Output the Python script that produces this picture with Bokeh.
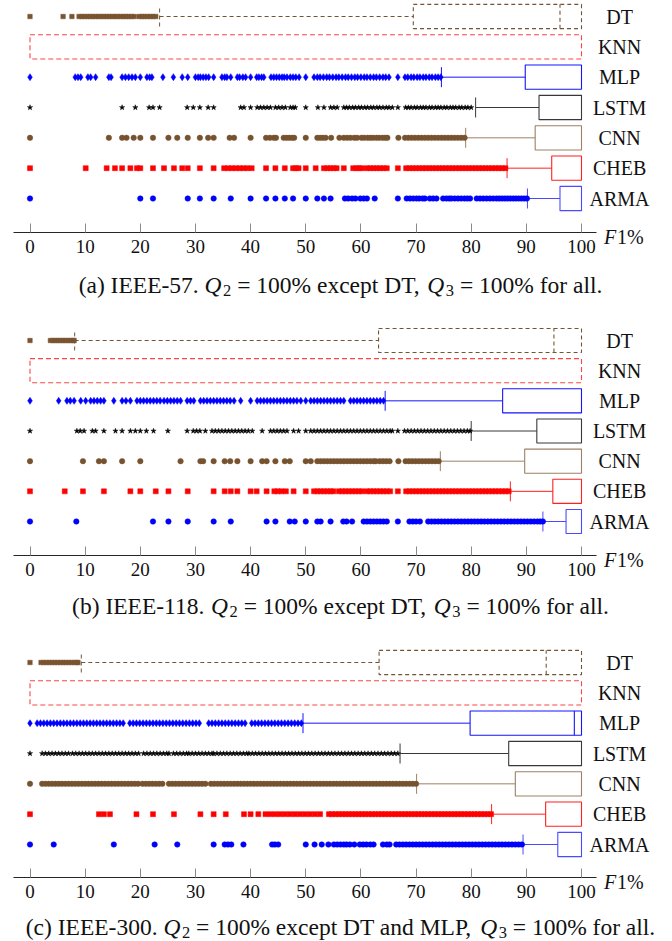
from bokeh.plotting import figure
from bokeh.models import Range1d, FixedTicker, Label, ColumnDataSource
from bokeh.layouts import column
from bokeh.core.properties import value
from bokeh.embed import file_html
from bokeh.resources import INLINE

# ---------------- data ----------------
methods = ["DT", "KNN", "MLP", "LSTM", "CNN", "CHEB", "ARMA"]
row_pos = [6, 5, 4, 3, 2, 1, 0]
x_ticks = [0, 10, 20, 30, 40, 50, 60, 70, 80, 90, 100]

# (a) IEEE-57
q1_a = [69.5, 0, 89.8, 92.3, 91.6, 94.6, 96.1]
med_a = [96.1, 100, 100, 100, 100, 100, 100]
q3_a = [100, 100, 100, 100, 100, 100, 100]
lw_a = [23.5, 0, 74.6, 80.8, 79.0, 86.5, 90.2]
out_dt_a = [0, 6.0, 7.6, 8.9, 9.4, 9.9, 10.4, 10.9, 11.4, 11.9, 12.4, 12.9, 13.4, 13.9, 14.4, 14.9, 15.4,
            15.9, 16.4, 16.9, 17.4, 17.9, 18.4, 18.9, 19.8, 20.3, 20.8, 21.3, 21.8, 22.3, 22.8]
out_mlp_a = [0, 8.2, 8.7, 9.2, 10.5, 11.0, 11.9, 14.3, 14.7, 16.7, 17.3, 17.9, 18.5, 19.1, 20.0, 21.2, 21.7,
             22.1, 24.1, 26.0, 27.6, 28.6, 30.0, 30.5, 30.9, 31.4, 31.9, 32.4, 33.3, 34.8, 35.3, 35.7, 36.4,
             37.6, 38.0, 38.6, 39.1, 40.0, 41.1, 41.5, 42.0, 42.4, 43.7, 44.2, 44.7, 45.2, 45.7, 46.1, 46.6,
             47.2, 47.7, 48.2, 48.8, 50.0, 51.5, 52.1, 52.6, 53.2, 53.8, 54.3, 54.9, 55.5, 56.0, 56.6, 57.2,
             57.7, 58.3, 58.9, 59.4, 60.0, 60.6, 61.1, 61.7, 62.3, 62.8, 63.4, 64.0, 64.5, 65.1, 66.7, 68.0,
             68.5, 69.1, 69.6, 70.2, 70.7, 71.3, 71.8, 72.4, 72.9, 73.5, 74.0, 74.5]
out_lstm_a = [0, 16.7, 19.1, 21.6, 22.3, 23.5, 28.5, 29.6, 30.8, 32.3, 33.3, 38.2, 38.8, 40.0, 41.2, 41.8,
              42.4, 43.0, 43.6, 44.5, 45.1, 45.7, 46.3, 47.2, 47.7, 48.1, 50.0, 52.2, 53.3, 54.5, 55.1, 55.7,
              56.9, 57.4, 57.9, 58.5, 59.0, 59.6, 60.1, 60.7, 61.2, 61.8, 62.3, 62.9, 63.4, 64.0, 64.6, 65.1,
              65.7, 66.7, 68.1, 68.6, 69.1, 69.7, 70.2, 70.8, 71.3, 71.8, 72.4, 72.9, 73.5, 74.0, 74.5, 75.1,
              75.6, 76.2, 76.7, 77.2, 77.8, 78.3, 78.9, 79.4, 80.0]
out_cnn_a = [0, 14.3, 16.7, 17.5, 18.8, 20.0, 22.3, 25.1, 26.7, 28.6, 30.8, 32.3, 33.3, 36.2, 37.0, 40.0,
             42.8, 43.5, 44.2, 44.6, 46.0, 46.5, 47.0, 47.5, 47.9, 50.0, 52.1, 52.6, 53.1, 53.6, 54.6, 56.1,
             56.9, 57.5, 58.1, 58.8, 59.3, 60.1, 60.6, 61.2, 61.7, 62.2, 62.8, 63.3, 63.9, 64.4, 64.8, 66.8,
             68.0, 68.6, 69.2, 69.8, 70.4, 71.0, 71.6, 72.2, 72.8, 73.4, 74.0, 74.6, 75.2, 75.8, 76.4, 77.0,
             77.6, 78.2, 78.8]
out_cheb_a = [0, 10.1, 13.9, 15.4, 16.7, 18.2, 19.4, 20.0, 22.3, 24.3, 26.1, 27.6, 28.6, 30.8, 33.3, 35.2,
              35.9, 36.6, 37.3, 38.0, 38.7, 39.4, 40.2, 42.8, 44.5, 46.2, 47.7, 48.2, 48.7, 50.0, 51.8, 53.3,
              53.9, 54.5, 55.1, 55.6, 56.9, 58.6, 59.2, 59.7, 60.2, 61.1, 61.7, 62.3, 62.9, 63.5, 64.1, 64.7,
              66.7, 68.2, 68.8, 69.4, 70.0, 70.6, 71.2, 71.8, 72.4, 73.0, 73.6, 74.2, 74.8, 75.4, 76.0, 76.6,
              77.2, 77.8, 78.4, 79.0, 79.6, 80.2, 80.8, 81.4, 82.0, 82.6, 83.2, 83.8, 84.4, 85.0, 85.6, 86.2]
out_arma_a = [0, 20.0, 22.3, 28.6, 30.8, 33.3, 36.4, 40.0, 42.8, 44.5, 46.2, 47.7, 50.0, 52.1, 53.3, 54.5,
              57.1, 57.7, 58.4, 59.0, 59.9, 60.5, 61.1, 62.5, 66.7, 68.3, 68.9, 69.5, 70.1, 70.6, 71.2, 71.6,
              72.5, 73.1, 73.7, 74.9, 75.5, 76.0, 76.4, 77.0, 77.6, 78.2, 78.8, 79.3, 79.8, 81.0, 81.6, 82.2,
              82.8, 83.4, 84.0, 84.6, 85.1, 85.6, 86.1, 86.6, 87.1, 87.6, 88.1, 88.6, 89.1, 89.6, 90.1]

# (b) IEEE-118
q1_b = [63.2, 0, 85.7, 91.9, 89.7, 94.8, 97.2]
med_b = [95.0, 100, 100, 100, 100, 100, 100]
q3_b = [100, 100, 100, 100, 100, 100, 100]
lw_b = [8.1, 0, 64.4, 80.0, 74.4, 87.1, 93.0]
out_dt_b = [0, 3.7, 4.2, 4.6, 5.1, 5.5, 6.0, 6.4, 6.9, 7.3, 7.8, 8.0]
out_mlp_b = [0, 5.2, 6.7, 7.3, 8.0, 9.2, 10.1, 11.0, 11.6, 12.2, 12.8, 13.4, 15.2, 16.7, 17.4, 18.2, 19.4,
             20.0, 20.6, 21.2, 21.8, 22.4, 23.0, 23.6, 24.3, 24.9, 25.5, 26.1, 26.7, 27.3, 28.5, 29.1, 29.7,
             30.9, 31.5, 32.1, 32.7, 33.3, 33.9, 34.5, 35.1, 35.7, 36.3, 37.0, 38.2, 40.0, 41.2, 41.8, 42.4,
             43.0, 43.6, 44.2, 44.8, 45.4, 46.0, 46.6, 47.2, 47.8, 48.4, 49.1, 50.0, 50.9, 51.5, 52.1, 52.7,
             53.3, 53.9, 54.5, 55.1, 55.7, 56.3, 56.9, 58.1, 58.7, 59.3, 59.9, 60.5, 61.1, 61.7, 62.3, 62.9,
             63.5, 64.1]
out_lstm_b = [0, 8.5, 9.1, 9.8, 11.3, 11.9, 13.4, 15.5, 16.7, 18.2, 19.1, 20.0, 21.1, 22.4, 25.0, 28.5, 29.6,
              30.2, 30.8, 31.8, 33.0, 33.6, 34.2, 34.8, 35.4, 36.0, 36.6, 37.2, 37.8, 38.4, 39.0, 39.6, 40.3,
              42.1, 43.6, 44.2, 44.8, 45.4, 46.0, 46.6, 47.8, 48.7, 50.0, 50.9, 51.5, 52.1, 52.7, 53.3, 53.9,
              54.5, 55.1, 55.7, 56.3, 56.9, 57.5, 58.1, 58.7, 59.3, 59.9, 60.5, 61.1, 61.7, 62.3, 62.9, 63.5,
              64.1, 64.7, 65.3, 65.7, 66.7, 67.9, 68.5, 69.1, 69.7, 70.3, 70.9, 71.5, 72.1, 72.7, 73.3, 73.9,
              74.5, 75.1, 75.7, 76.3, 76.9, 77.5, 78.1, 78.7, 79.3, 79.8]
out_cnn_b = [0, 9.6, 12.5, 13.4, 16.7, 20.0, 27.3, 30.9, 31.4, 33.3, 35.3, 36.3, 37.6, 40.0, 42.1, 42.9,
             44.5, 46.2, 47.1, 50.0, 50.9, 52.1, 52.7, 53.3, 53.9, 54.5, 55.1, 55.7, 56.3, 56.9, 57.5, 58.1,
             58.7, 59.3, 59.9, 60.5, 61.1, 61.7, 62.3, 62.7, 63.4, 64.0, 64.6, 65.2, 66.8, 68.1, 68.7, 69.3,
             69.9, 70.5, 71.1, 71.7, 72.3, 72.9, 73.5, 74.1]
out_cheb_b = [0, 6.3, 9.6, 13.4, 18.2, 20.0, 22.8, 25.1, 28.6, 33.3, 35.3, 36.4, 37.6, 40.0, 41.1, 42.9,
              44.3, 44.9, 45.6, 46.4, 47.8, 50.0, 51.5, 52.1, 52.7, 53.3, 53.9, 54.5, 55.0, 56.0, 56.6, 57.2,
              57.8, 58.4, 59.0, 59.6, 60.2, 61.1, 61.7, 62.3, 62.9, 63.5, 64.1, 64.7, 65.3, 66.7, 68.2, 68.8,
              69.4, 70.0, 70.6, 71.2, 71.8, 72.4, 73.0, 73.6, 74.2, 74.8, 75.4, 76.0, 76.6, 77.2, 77.8, 78.4,
              79.0, 79.6, 80.2, 80.8, 81.4, 82.0, 82.6, 83.2, 83.8, 84.4, 85.0, 85.6, 86.2, 86.8]
out_arma_b = [0, 8.4, 22.3, 25.1, 28.6, 33.3, 36.4, 42.9, 44.5, 47.1, 48.0, 50.0, 52.1, 52.7, 54.5, 56.8,
              57.4, 58.4, 60.5, 61.1, 61.7, 62.3, 62.9, 63.5, 64.1, 64.7, 66.7, 68.8, 69.4, 70.0, 70.7, 72.2,
              72.8, 73.4, 74.0, 74.6, 75.2, 75.8, 76.4, 77.0, 77.6, 78.2, 78.8, 79.4, 80.0, 80.6, 81.2, 81.8,
              82.4, 83.0, 83.6, 84.2, 84.8, 85.4, 86.0, 86.6, 87.2, 87.8, 88.4, 89.0, 89.6, 90.2, 90.8, 91.4,
              92.0, 92.5, 93.0]

# (c) IEEE-300
q1_c = [63.3, 0, 79.8, 86.8, 88.0, 93.5, 95.7]
med_c = [93.6, 100, 98.7, 100, 100, 100, 100]
q3_c = [100, 100, 100, 100, 100, 100, 100]
lw_c = [9.3, 0, 49.5, 67.1, 70.1, 83.7, 89.4]
out_dt_c = [0, 2.0, 2.5, 3.0, 3.5, 4.0, 4.5, 5.0, 5.5, 6.0, 6.5, 7.0, 7.5, 8.0, 8.5, 8.7]
out_mlp_c = [0, 1.3, 1.9, 2.5, 3.1, 3.7, 4.3, 4.9, 5.5, 6.1, 6.7, 7.3, 7.9, 8.5, 9.1, 9.7, 10.3, 10.9, 11.5,
             12.1, 12.7, 13.3, 13.9, 14.5, 15.1, 15.7, 16.3, 16.9, 18.1, 18.7, 19.3, 19.9, 20.5, 21.1, 21.7,
             22.3, 22.9, 23.5, 24.1, 24.7, 25.3, 25.9, 26.5, 27.1, 27.7, 28.3, 28.9, 29.5, 30.1, 30.7, 32.4,
             33.0, 33.6, 34.2, 34.8, 35.4, 36.0, 36.6, 37.2, 37.8, 38.4, 39.0, 40.2, 40.8, 41.4, 42.0, 42.6,
             43.2, 43.8, 44.4, 45.0, 45.6, 46.2, 46.8, 47.4, 48.0, 48.6, 49.2]
out_lstm_c = [0, 2.2, 2.8, 3.4, 4.0, 4.6, 5.2, 5.8, 6.4, 7.0, 7.7, 8.3, 8.9, 9.5, 10.1, 10.7, 11.3, 11.9,
              12.5, 13.1, 13.7, 14.3, 14.9, 15.5, 16.1, 16.7, 17.3, 17.9, 18.5, 19.1, 19.7, 20.6, 21.2, 21.8,
              22.4, 23.0, 23.6, 24.2, 24.8, 25.2, 26.0, 26.6, 27.2, 27.8, 28.4, 28.8, 29.4, 30.0, 30.6, 31.2,
              31.8, 32.4, 33.0, 33.3, 33.9, 34.5, 35.1, 35.7, 36.3, 36.9, 37.5, 38.1, 38.7, 39.3, 39.7, 40.3,
              40.9, 41.5, 42.1, 42.7, 43.3, 43.9, 44.5, 45.1, 45.7, 46.3, 46.9, 47.5, 48.1, 48.7, 49.3, 49.9,
              50.5, 51.1, 51.7, 52.3, 52.9, 53.5, 54.1, 54.7, 55.3, 55.9, 56.5, 57.1, 57.7, 58.3, 58.9, 59.5,
              60.1, 60.7, 61.3, 61.9, 62.5, 63.1, 63.7, 64.3, 64.9, 65.5, 66.1, 66.7]
out_cnn_c = [0, 2.2, 2.8, 3.4, 4.0, 4.6, 5.2, 5.8, 6.4, 7.0, 7.6, 8.2, 8.8, 9.4, 10.0, 10.6, 11.2, 11.8, 12.4,
             13.0, 13.6, 14.2, 14.8, 15.4, 16.0, 16.6, 17.2, 17.8, 18.4, 19.0, 19.6, 20.4, 21.0, 21.6, 22.2,
             22.8, 23.4, 24.0, 25.2, 25.8, 26.4, 27.0, 27.6, 28.2, 28.8, 29.4, 30.0, 30.6, 31.2, 31.8, 32.8,
             33.4, 34.0, 34.6, 35.2, 35.8, 36.4, 37.0, 37.6, 38.2, 38.8, 39.4, 40.0, 40.6, 41.2, 41.8, 42.4,
             43.0, 43.6, 44.2, 44.8, 45.4, 46.0, 46.6, 47.2, 47.8, 48.4, 49.0, 49.6, 50.2, 50.8, 51.4, 52.0,
             52.6, 53.2, 53.8, 54.4, 55.0, 55.6, 56.2, 56.8, 57.4, 58.0, 58.6, 59.2, 59.8, 60.4, 61.0, 61.6,
             62.2, 62.8, 63.4, 64.0, 64.6, 65.2, 65.8, 66.4, 67.0, 67.6, 68.2, 68.8, 69.4, 70.0]
out_cheb_c = [0, 12.5, 13.4, 14.5, 19.3, 22.3, 26.1, 30.9, 33.3, 35.5, 38.8, 40.0, 41.4, 42.7, 43.6, 44.5,
              45.4, 46.3, 47.2, 48.1, 49.0, 49.9, 50.8, 51.7, 52.6, 54.2, 54.8, 55.4, 56.0, 56.6, 57.2, 57.8,
              58.4, 59.0, 59.6, 60.2, 60.8, 61.4, 62.0, 62.6, 63.2, 63.8, 64.4, 65.0, 65.6, 66.2, 66.8, 67.4,
              68.0, 68.6, 69.2, 69.8, 70.4, 71.0, 71.6, 72.2, 72.8, 73.4, 74.0, 74.6, 75.2, 75.8, 76.4, 77.0,
              77.6, 78.2, 78.8, 79.4, 80.0, 80.6, 81.2, 81.8, 82.4, 83.0, 83.6]
out_arma_c = [0, 4.3, 15.2, 22.6, 26.7, 33.3, 35.3, 35.9, 36.5, 38.7, 43.9, 44.4, 45.0, 50.0, 51.6, 52.9,
              54.1, 55.1, 55.7, 56.3, 56.9, 57.4, 58.0, 58.8, 59.8, 60.4, 61.0, 61.7, 62.3, 64.0, 64.7, 65.2,
              66.4, 67.0, 67.6, 68.2, 68.8, 69.4, 70.0, 70.6, 71.2, 71.8, 72.4, 73.0, 73.6, 74.2, 74.8, 75.4,
              76.0, 76.6, 77.2, 77.8, 78.4, 79.0, 79.6, 80.2, 80.8, 81.4, 82.0, 82.6, 83.2, 83.8, 84.4, 85.0,
              85.6, 86.2, 86.8, 87.4, 88.0, 88.6, 89.2]

captions = [
    [("(a) IEEE-57. ", "n"), ("Q", "i"), ("2", "s"), (" = 100% except DT, ", "n"), ("Q", "i"), ("3", "s"),
     (" = 100% for all.", "n")],
    [("(b) IEEE-118. ", "n"), ("Q", "i"), ("2", "s"), (" = 100% except DT, ", "n"), ("Q", "i"), ("3", "s"),
     (" = 100% for all.", "n")],
    [("(c) IEEE-300. ", "n"), ("Q", "i"), ("2", "s"), (" = 100% except DT and MLP, ", "n"), ("Q", "i"),
     ("3", "s"), (" = 100% for all.", "n")],
]

# ---------------- styling ----------------
FONT = "Liberation Serif"
STY = {
    "DT":   dict(mc="#7A5431", lc="#735536", marker="square", size=4.5, dash="4 3"),
    "KNN":  dict(mc="#FF0000", lc="#FF4545", marker=None, size=0, dash="5 3"),
    "MLP":  dict(mc="#0000FF", lc="#1414FF", marker="diamond", size=7, dash="solid"),
    "LSTM": dict(mc="#000000", lc="#383838", marker="star", size=5.5, dash="solid"),
    "CNN":  dict(mc="#76522E", lc="#9C8064", marker="circle", size=5.5, dash="solid"),
    "CHEB": dict(mc="#FF0000", lc="#FF2020", marker="square", size=5, dash="solid"),
    "ARMA": dict(mc="#0000FF", lc="#4A4AFF", marker="circle", size=5.5, dash="solid"),
}

EM = {" ": .25, "(": .333, ")": .333, ".": .25, ",": .25, "-": .333, "=": .564, "%": .833,
      "a": .444, "c": .444, "d": .5, "e": .444, "f": .333, "l": .278, "n": .5, "o": .5, "p": .5,
      "r": .333, "t": .278, "x": .5, "b": .5,
      "A": .722, "B": .667, "C": .667, "D": .722, "E": .611, "I": .333, "L": .611, "M": .889,
      "P": .556, "T": .611, "Q": .722, "F": .611}

W = 672
X0_PX = 29.5      # where 0 sits
PX_PER = 5.515    # pixels per percent


def text_w(s, size):
    return sum(EM.get(ch, .5) for ch in s) * size


def make_panel(H, dt_px, arma_px, axis_px, cap_px, q1, med, q3, lw, outs, cap):
    s = (arma_px - dt_px) / 6.0

    def yv(py):
        return 6 - (py - dt_px) / s

    p = figure(width=W, height=H, output_backend="svg", toolbar_location=None,
               x_range=Range1d(-X0_PX / PX_PER, (W - X0_PX) / PX_PER),
               y_range=Range1d(yv(H), yv(0)),
               y_axis_location=None, min_border=0, min_border_left=0, min_border_right=0,
               min_border_top=0, min_border_bottom=0)
    p.grid.visible = False
    p.outline_line_color = None
    p.background_fill_color = "white"
    p.border_fill_color = "white"

    ax = p.xaxis[0]
    ax.fixed_location = yv(axis_px)
    ax.ticker = FixedTicker(ticks=x_ticks, minor_ticks=[])
    ax.bounds = (-3, 102.7)
    ax.axis_line_color = "#262626"
    ax.axis_line_width = 1
    ax.major_tick_in = 9
    ax.major_tick_out = 0
    ax.major_tick_line_color = "#8a8a8a"
    ax.minor_tick_line_color = None
    ax.major_label_text_font = FONT
    ax.major_label_text_font_size = "19px"
    ax.major_label_text_color = "#111111"
    ax.major_label_standoff = 7

    hb, hc = 0.4, 0.33
    for i, m in enumerate(methods):
        st = STY[m]
        y = row_pos[i]
        if lw[i] < q1[i]:
            p.segment(x0=[lw[i]], y0=[y], x1=[q1[i]], y1=[y], line_color=st["lc"], line_width=1,
                      line_dash=st["dash"])
            p.segment(x0=[lw[i]], y0=[y - hc], x1=[lw[i]], y1=[y + hc], line_color=st["lc"],
                      line_width=1, line_dash=st["dash"])
        p.quad(left=[q1[i]], right=[q3[i]], bottom=[y - hb], top=[y + hb], fill_color=None,
               line_color=st["lc"], line_width=1.1, line_dash=st["dash"])
        if med[i] < q3[i]:
            p.segment(x0=[med[i]], y0=[y - hb], x1=[med[i]], y1=[y + hb], line_color=st["lc"],
                      line_width=1.1, line_dash=st["dash"])
        if st["marker"] and outs[m]:
            src = ColumnDataSource(dict(x=outs[m], y=[y] * len(outs[m])))
            p.scatter("x", "y", source=src, marker=st["marker"], size=st["size"],
                      fill_color=st["mc"], line_color=st["mc"], line_width=0.5)

    p.text(x=[106.9] * 7, y=row_pos, text=methods, text_font=value(FONT), text_font_size="20px",
           text_align="center", text_baseline="middle", text_color="#111111")

    # F1% label at the right end of the axis (screen units: from frame left / frame bottom)
    fy = H - (axis_px + 4)
    p.add_layout(Label(x=603.5, y=fy, x_units="screen", y_units="screen", text="F",
                       text_font=FONT, text_font_style="italic", text_font_size="20px",
                       text_baseline="middle", text_color="#111111"))
    p.add_layout(Label(x=616.5, y=fy, x_units="screen", y_units="screen", text="1%",
                       text_font=FONT, text_font_size="20px", text_baseline="middle",
                       text_color="#111111"))

    # caption, built from pieces (leading/trailing spaces handled as offsets)
    size = 23.5
    sub = 16.5
    cy = H - cap_px
    widths = [text_w(t, sub if k == "s" else size) + (1.5 if k == "i" else 0) for t, k in cap]
    xs = 340 - sum(widths) / 2
    for (t, k), w in zip(cap, widths):
        lead = (len(t) - len(t.lstrip(" "))) * EM[" "] * size
        txt = t.strip(" ")
        if k == "s":
            lab = Label(x=xs + lead, y=cy - 6, text=txt, text_font_size=f"{sub}px")
        else:
            lab = Label(x=xs + lead, y=cy, text=txt, text_font_size=f"{size}px",
                        text_font_style="italic" if k == "i" else "normal")
        lab.x_units = "screen"
        lab.y_units = "screen"
        lab.text_font = FONT
        lab.text_baseline = "middle"
        lab.text_color = "#111111"
        p.add_layout(lab)
        xs += w
    return p


pa = make_panel(323, 16, 198, 232, 284, q1_a, med_a, q3_a, lw_a,
                {"DT": out_dt_a, "KNN": [], "MLP": out_mlp_a, "LSTM": out_lstm_a, "CNN": out_cnn_a,
                 "CHEB": out_cheb_a, "ARMA": out_arma_a}, captions[0])
pb = make_panel(323, 17, 198, 232, 282, q1_b, med_b, q3_b, lw_b,
                {"DT": out_dt_b, "KNN": [], "MLP": out_mlp_b, "LSTM": out_lstm_b, "CNN": out_cnn_b,
                 "CHEB": out_cheb_b, "ARMA": out_arma_b}, captions[1])
pc = make_panel(295, 16, 198, 231, 280, q1_c, med_c, q3_c, lw_c,
                {"DT": out_dt_c, "KNN": [], "MLP": out_mlp_c, "LSTM": out_lstm_c, "CNN": out_cnn_c,
                 "CHEB": out_cheb_c, "ARMA": out_arma_c}, captions[2])

layout = column(pa, pb, pc, spacing=0)
open("out.html", "w").write(file_html(layout, INLINE))
